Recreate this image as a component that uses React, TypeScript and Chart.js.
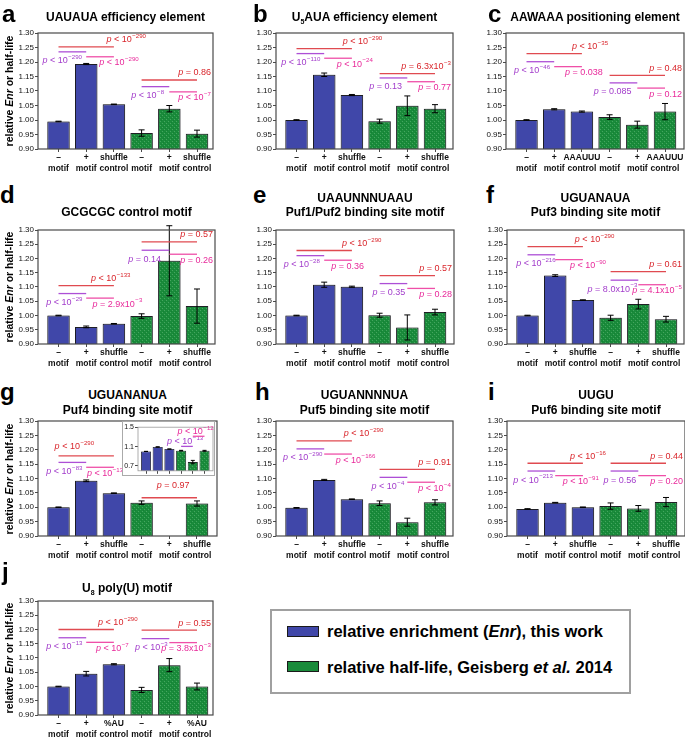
import React, { useEffect, useRef } from "react";
import { Chart, registerables } from "chart.js";
Chart.register(...registerables);

const FONT = '"Liberation Sans", Arial, Helvetica, sans-serif';
Chart.defaults.font.family = FONT;

const BLUE = "#4047a9";
const GREEN = "#1a8b3b";
const EDGE = "#1b1b22";
const AXIS = "#4a4a4a";
const TEXT_C: any = { r: "#d9252b", p: "#a23ccb", m: "#e8299a" };
const LINE_C: any = { r: "#e04a50", p: "#ad4fd6", m: "#ef4fa8" };
const DEF_DY: any = { r: -7, p: 9, m: 6 };

// ---------- data ----------
const ENR_X = [0, 1, 2];
const HL_X = [3, 4, 5];
const TICK_POS = [0, 1, 2, 3, 4, 5];
const Y_TICKS = [0.9, 0.95, 1.0, 1.05, 1.1, 1.15, 1.2, 1.25, 1.3];
const INSET_TICKS = [0.7, 0.9, 1.1, 1.3, 1.5];

const LABELS_SHUFFLE = [["–", "motif"], ["+", "motif"], ["shuffle", "control"], ["–", "motif"], ["+", "motif"], ["shuffle", "control"]];
const LABELS_AAAUUU = [["–", "motif"], ["+", "motif"], ["AAAUUU", "control"], ["–", "motif"], ["+", "motif"], ["AAAUUU", "control"]];
const LABELS_AU = [["–", "motif"], ["+", "motif"], ["%AU", "control"], ["–", "motif"], ["+", "motif"], ["%AU", "control"]];

const A_ENR = [0.995, 1.193, 1.054];
const A_ENR_ERR = [0.001, 0.002, 0.001];
const A_HL = [0.955, 1.039, 0.953];
const A_HL_ERR = [0.011, 0.011, 0.012];
const A_P = ["p < 10^−290", "p < 10^−290", "p < 10^−290", "p = 0.86", "p < 10^−8", "p < 10^−7"];

const B_ENR = [1.0, 1.156, 1.086];
const B_ENR_ERR = [0.001, 0.006, 0.002];
const B_HL = [0.996, 1.049, 1.039];
const B_HL_ERR = [0.007, 0.034, 0.014];
const B_P = ["p < 10^−290", "p < 10^−110", "p < 10^−24", "p = 6.3x10^−3", "p = 0.13", "p = 0.77"];

const C_ENR = [1.0, 1.037, 1.029];
const C_ENR_ERR = [0.001, 0.002, 0.002];
const C_HL = [1.01, 0.984, 1.029];
const C_HL_ERR = [0.008, 0.012, 0.028];
const C_P = ["p < 10^−35", "p < 10^−46", "p = 0.038", "p = 0.48", "p = 0.085", "p = 0.12"];

const D_ENR = [1.0, 0.96, 0.971];
const D_ENR_ERR = [0.001, 0.003, 0.001];
const D_HL = [0.998, 1.192, 1.033];
const D_HL_ERR = [0.008, 0.123, 0.06];
const D_P = ["p < 10^−133", "p < 10^−29", "p = 2.9x10^−3", "p = 0.57", "p = 0.14", "p = 0.26"];

const E_ENR = [1.0, 1.108, 1.101];
const E_ENR_ERR = [0.001, 0.009, 0.002];
const E_HL = [1.001, 0.958, 1.012];
const E_HL_ERR = [0.007, 0.044, 0.01];
const E_P = ["p < 10^−290", "p < 10^−28", "p = 0.36", "p = 0.57", "p = 0.35", "p = 0.28"];

const F_ENR = [1.0, 1.14, 1.054];
const F_ENR_ERR = [0.001, 0.003, 0.001];
const F_HL = [0.992, 1.04, 0.987];
const F_HL_ERR = [0.009, 0.017, 0.01];
const F_P = ["p < 10^−290", "p < 10^−216", "p < 10^−90", "p = 0.61", "p = 8.0x10^−3", "p = 4.1x10^−5"];

const G_ENR = [1.0, 1.092, 1.049];
const G_ENR_ERR = [0.001, 0.003, 0.001];
const G_HL = [1.016, 0.78, 1.013];
const G_HL_ERR = [0.006, 0.035, 0.009];
const G_P = ["p < 10^−290", "p < 10^−83", "p < 10^−13", "p = 0.97"];
const G_INSET_P = ["p < 10^−13", "p < 10^−12"];

const H_ENR = [0.998, 1.095, 1.028];
const H_ENR_ERR = [0.001, 0.002, 0.001];
const H_HL = [1.014, 0.948, 1.017];
const H_HL_ERR = [0.008, 0.014, 0.009];
const H_P = ["p < 10^−290", "p < 10^−290", "p < 10^−166", "p = 0.91", "p < 10^−4", "p < 10^−4"];

const I_ENR = [0.994, 1.016, 1.0];
const I_ENR_ERR = [0.001, 0.001, 0.001];
const I_HL = [1.004, 0.996, 1.018];
const I_HL_ERR = [0.011, 0.01, 0.016];
const I_P = ["p < 10^−16", "p < 10^−213", "p < 10^−91", "p = 0.44", "p = 0.56", "p = 0.20"];

const J_ENR = [1.0, 1.045, 1.078];
const J_ENR_ERR = [0.001, 0.008, 0.002];
const J_HL = [0.988, 1.075, 1.0];
const J_HL_ERR = [0.009, 0.023, 0.012];
const J_P = ["p < 10^−290", "p < 10^−13", "p < 10^−7", "p = 0.55", "p < 10^−3", "p = 3.8x10^−3"];

// ---------- layout ----------
const STD_KINDS: [string, number][] = [["r", 0], ["p", 0], ["m", 0], ["r", 1], ["p", 1], ["m", 1]];
function std(levels: number[], tx: (number | null)[]) {
  return STD_KINDS.map(([k, g], i) => ({ k, g, y: levels[i], tx: tx[i] }));
}

const AXW = 36, PT = 14, PR = 3, XH = 30;
const SP = 27.7, OFF = 20.5;

const PANELS: any[] = [
  { id: "a", l: 38, r: 213, t: 33, b: 149, enr: A_ENR, enrErr: A_ENR_ERR, hl: A_HL, hlErr: A_HL_ERR, labels: LABELS_SHUFFLE, pvals: A_P,
    br: std([1.252, 1.235, 1.218, 1.138, 1.115, 1.097], [1.73, -0.58, 1.47, null, 2.63, null]) },
  { id: "b", l: 276, r: 453, t: 33, b: 149, enr: B_ENR, enrErr: B_ENR_ERR, hl: B_HL, hlErr: B_HL_ERR, labels: LABELS_SHUFFLE, pvals: B_P,
    br: std([1.246, 1.229, 1.213, 1.16, 1.145, 1.132], [1.67, -0.55, 1.45, null, 2.63, null]) },
  { id: "c", l: 506, r: 684, t: 33, b: 149, enr: C_ENR, enrErr: C_ENR_ERR, hl: C_HL, hlErr: C_HL_ERR, labels: LABELS_AAAUUU, pvals: C_P,
    br: std([1.229, 1.201, 1.184, 1.154, 1.128, 1.11], [1.64, -0.45, 1.39, null, 2.43, null]) },
  { id: "d", l: 38, r: 215, t: 230, b: 344, enr: D_ENR, enrErr: D_ENR_ERR, hl: D_HL, hlErr: D_HL_ERR, labels: LABELS_SHUFFLE, pvals: D_P,
    br: std([1.105, 1.077, 1.061, 1.258, 1.229, 1.215], [1.17, -0.44, 1.23, null, 2.52, null]) },
  { id: "e", l: 276, r: 454, t: 230, b: 344, enr: E_ENR, enrErr: E_ENR_ERR, hl: E_HL, hlErr: E_HL_ERR, labels: LABELS_SHUFFLE, pvals: E_P,
    br: std([1.228, 1.21, 1.194, 1.14, 1.112, 1.095], [1.64, -0.46, 1.25, null, 2.74, null]) },
  { id: "f", l: 507, r: 684, t: 230, b: 344, enr: F_ENR, enrErr: F_ENR_ERR, hl: F_HL, hlErr: F_HL_ERR, labels: LABELS_SHUFFLE, pvals: F_P,
    br: std([1.242, 1.213, 1.196, 1.154, 1.124, 1.108], [1.71, -0.41, 1.53, null, 2.17, null]) },
  { id: "g", l: 38, r: 217, t: 421, b: 536, enr: G_ENR, enrErr: G_ENR_ERR, hl: G_HL, hlErr: G_HL_ERR, labels: LABELS_SHUFFLE, pvals: G_P,
    br: [{ k: "r", g: 0, y: 1.179, tx: -0.14, dy: -9 }, { k: "p", g: 0, y: 1.156, tx: -0.44 }, { k: "m", g: 0, y: 1.139, tx: 1.03 }, { k: "r", g: 1, y: 1.033, tx: 3.55, dy: -12 }] },
  { id: "h", l: 276, r: 453, t: 421, b: 536, enr: H_ENR, enrErr: H_ENR_ERR, hl: H_HL, hlErr: H_HL_ERR, labels: LABELS_SHUFFLE, pvals: H_P,
    br: std([1.231, 1.203, 1.185, 1.132, 1.104, 1.087], [1.71, -0.49, 1.42, null, 2.71, null]) },
  { id: "i", l: 507, r: 685, t: 421, b: 536, enr: I_ENR, enrErr: I_ENR_ERR, hl: I_HL, hlErr: I_HL_ERR, labels: LABELS_SHUFFLE, pvals: I_P,
    br: std([1.153, 1.126, 1.11, 1.153, 1.126, 1.11], [1.53, -0.51, 1.27, null, 2.74, null]) },
  { id: "j", l: 38, r: 213, t: 601, b: 715, enr: J_ENR, enrErr: J_ENR_ERR, hl: J_HL, hlErr: J_HL_ERR, labels: LABELS_AU, pvals: J_P,
    br: std([1.2, 1.171, 1.155, 1.198, 1.168, 1.154], [1.43, -0.44, 1.35, null, 2.76, null]) },
];

const INSET = { left: 124, top: 422, w: 91, h: 54, axw: 14, pt: 3, pr: 2, xh: 3, sp: 11.7, off: 8,
  br: [{ k: "p", g: 1, y: 1.104, tx: 1.8, dy: -5, c: [3, 4] }, { k: "m", g: 1, y: 1.313, tx: 2.7, dy: -5, c: [4, 5] }] };

// ---------- drawing helpers ----------
function makeGreen(ctx: CanvasRenderingContext2D) {
  const c = document.createElement("canvas");
  c.width = 4; c.height = 4;
  const g = c.getContext("2d")!;
  g.fillStyle = GREEN; g.fillRect(0, 0, 4, 4);
  g.fillStyle = "rgba(120,200,140,0.45)"; g.fillRect(0, 0, 1, 1); g.fillRect(2, 2, 1, 1);
  g.fillStyle = "rgba(0,90,30,0.2)"; g.fillRect(1, 3, 1, 1); g.fillRect(3, 1, 1, 1);
  return ctx.createPattern(c, "repeat") || GREEN;
}

function drawPText(ctx: any, x: number, yc: number, str: string, color: string, alignRight: boolean, fs: number) {
  const [main, sup] = str.split("^");
  const body = main.slice(1);
  ctx.save();
  ctx.fillStyle = color;
  ctx.textBaseline = "middle";
  ctx.textAlign = "left";
  const fI = `italic ${fs}px ${FONT}`, fN = `${fs}px ${FONT}`, fS = `${(fs * 0.68).toFixed(1)}px ${FONT}`;
  ctx.font = fI; const w1 = ctx.measureText("p").width;
  ctx.font = fN; const w2 = ctx.measureText(body).width;
  let w3 = 0;
  if (sup) { ctx.font = fS; w3 = ctx.measureText(sup).width + 0.5; }
  const x0 = alignRight ? x - (w1 + w2 + w3) : x;
  ctx.font = fI; ctx.fillText("p", x0, yc);
  ctx.font = fN; ctx.fillText(body, x0 + w1, yc);
  if (sup) { ctx.font = fS; ctx.fillText(sup, x0 + w1 + w2 + 0.5, yc - fs * 0.38); }
  ctx.restore();
}

const shadowPlugin = {
  id: "shadow",
  beforeDatasetsDraw(chart: any) {
    const ctx = chart.ctx;
    ctx.save();
    ctx.shadowColor = "rgba(60,60,60,0.45)";
    ctx.shadowBlur = 2.5;
    ctx.shadowOffsetX = 0.6;
  },
  afterDatasetsDraw(chart: any) { chart.ctx.restore(); },
};

const errorPlugin = {
  id: "errs",
  afterDatasetsDraw(chart: any) {
    const ys = chart.scales.y, ctx = chart.ctx;
    chart.data.datasets.forEach((ds: any, di: number) => {
      const meta = chart.getDatasetMeta(di);
      meta.data.forEach((el: any, j: number) => {
        const v = ds.data[j].y, e = ds.errors[j];
        if (v < ys.min || !e) return;
        const yt = ys.getPixelForValue(v + e), yb = ys.getPixelForValue(v - e);
        const x = el.x, cw = ds.capW;
        ctx.save();
        ctx.strokeStyle = "#000"; ctx.lineWidth = 1;
        ctx.beginPath();
        ctx.moveTo(x, yt); ctx.lineTo(x, yb);
        ctx.moveTo(x - cw, yt); ctx.lineTo(x + cw, yt);
        ctx.moveTo(x - cw, yb); ctx.lineTo(x + cw, yb);
        ctx.stroke();
        ctx.restore();
      });
    });
  },
};

function framePlugin(color: string, lw: number) {
  return {
    id: "frame",
    afterDatasetsDraw(chart: any) {
      const { ctx, chartArea: a } = chart;
      ctx.save();
      ctx.strokeStyle = color; ctx.lineWidth = lw;
      ctx.strokeRect(a.left, a.top, a.right - a.left, a.bottom - a.top);
      ctx.restore();
    },
  };
}

function bracketPlugin(brs: any[], texts: string[], fs: number) {
  return {
    id: "brackets",
    afterDraw(chart: any) {
      const { ctx, chartArea } = chart;
      const xs = chart.scales.x, ys = chart.scales.y;
      brs.forEach((b: any, i: number) => {
        const base = b.g * 3;
        const [i0, i1] = b.c ? b.c : b.k === "r" ? [base, base + 2] : b.k === "p" ? [base, base + 1] : [base + 1, base + 2];
        const y = ys.getPixelForValue(b.y);
        ctx.save();
        ctx.strokeStyle = LINE_C[b.k]; ctx.lineWidth = 1.3;
        ctx.beginPath();
        ctx.moveTo(xs.getPixelForValue(i0), y);
        ctx.lineTo(xs.getPixelForValue(i1), y);
        ctx.stroke();
        ctx.restore();
        const dy = b.dy ?? DEF_DY[b.k];
        if (b.tx == null) drawPText(ctx, chartArea.right - 2, y + dy, texts[i], TEXT_C[b.k], true, fs);
        else drawPText(ctx, xs.getPixelForValue(b.tx), y + dy, texts[i], TEXT_C[b.k], false, fs);
      });
    },
  };
}

function buildConfig(o: any) {
  return {
    type: "bar",
    data: {
      datasets: [
        {
          data: [...ENR_X.map((x, i) => ({ x, y: o.enr[i] })), ...HL_X.map((x, i) => ({ x, y: o.hl[i] }))],
          errors: [...o.enrErr, ...o.hlErr],
          capW: o.capW,
          backgroundColor: [BLUE, BLUE, BLUE, o.green, o.green, o.green],
          borderColor: EDGE,
          borderWidth: o.bw,
          barPercentage: o.barPct,
          categoryPercentage: 0.9,
          clip: 0,
        },
      ],
    },
    options: {
      animation: false,
      responsive: false,
      events: [],
      layout: { padding: { top: o.pt, right: o.pr, left: 0, bottom: 0 } },
      plugins: { legend: { display: false }, tooltip: { enabled: false }, title: { display: false } },
      scales: {
        x: {
          type: "linear", min: o.xmin, max: o.xmax, offset: false,
          grid: { display: true, drawOnChartArea: false, drawTicks: true, tickLength: 3, color: AXIS, offset: false },
          border: { display: false },
          ticks: {
            display: o.showX, autoSkip: false, maxRotation: 0, minRotation: 0, padding: 0, color: "#111",
            font: { size: 8.5, weight: "bold", lineHeight: 1.3, family: FONT },
            callback: (v: any) => (o.labels ? o.labels[Math.round(v)] ?? "" : ""),
          },
          afterBuildTicks: (s: any) => { s.ticks = TICK_POS.map((v) => ({ value: v })); },
          afterFit: (s: any) => { s.height = o.xh; },
        },
        y: {
          type: "linear", min: o.ymin, max: o.ymax,
          grid: { display: true, drawOnChartArea: false, drawTicks: true, tickLength: 3, color: AXIS },
          border: { display: false },
          ticks: { padding: 1, color: "#111", font: { size: o.yfs, family: FONT }, callback: (v: any) => Number(v).toFixed(o.ydec) },
          afterBuildTicks: (s: any) => { s.ticks = o.yticks.map((v: number) => ({ value: v })); },
          afterFit: (s: any) => { s.width = o.axw; },
        },
      },
    },
    plugins: [shadowPlugin, errorPlugin, framePlugin(o.frame, o.frameW), bracketPlugin(o.br, o.pvals, 9)],
  } as any;
}

function MainChart({ p }: { p: any }) {
  const ref = useRef<HTMLCanvasElement>(null);
  const w = AXW + (p.r - p.l) + PR, h = PT + (p.b - p.t) + XH;
  useEffect(() => {
    const c = ref.current;
    if (!c) return;
    const ctx = c.getContext("2d")!;
    const W = p.r - p.l;
    const xmin = -OFF / SP;
    const chart = new Chart(c, buildConfig({
      enr: p.enr, enrErr: p.enrErr, hl: p.hl, hlErr: p.hlErr, labels: p.labels, pvals: p.pvals, br: p.br,
      green: makeGreen(ctx), capW: 3, bw: 1, barPct: 0.9,
      xmin, xmax: xmin + W / SP, ymin: 0.9, ymax: 1.3, yticks: Y_TICKS, ydec: 2, yfs: 8,
      pt: PT, pr: PR, xh: XH, axw: AXW, showX: true, frame: AXIS, frameW: 1.2,
    }));
    return () => chart.destroy();
  }, [p]);
  return <canvas ref={ref} width={w} height={h} style={{ position: "absolute", left: p.l - AXW, top: p.t - PT }} />;
}

function InsetChart() {
  const ref = useRef<HTMLCanvasElement>(null);
  const o = INSET;
  useEffect(() => {
    const c = ref.current;
    if (!c) return;
    const ctx = c.getContext("2d")!;
    const W = o.w - o.axw - o.pr;
    const xmin = -o.off / o.sp;
    const chart = new Chart(c, buildConfig({
      enr: G_ENR, enrErr: G_ENR_ERR, hl: G_HL, hlErr: G_HL_ERR, labels: null, pvals: G_INSET_P, br: o.br,
      green: makeGreen(ctx), capW: 2, bw: 0.8, barPct: 0.95,
      xmin, xmax: xmin + W / o.sp, ymin: 0.6, ymax: 1.5, yticks: INSET_TICKS, ydec: 1, yfs: 7,
      pt: o.pt, pr: o.pr, xh: o.xh, axw: o.axw, showX: false, frame: "#9a9a9a", frameW: 0.8,
    }));
    return () => chart.destroy();
  }, []);
  return (
    <>
      <div style={{ position: "absolute", left: o.left - 2, top: o.top - 1, width: o.w + 2, height: o.h + 1, background: "#fff", border: "1px solid #aaa", boxSizing: "border-box" }} />
      <canvas ref={ref} width={o.w} height={o.h} style={{ position: "absolute", left: o.left, top: o.top }} />
    </>
  );
}

const LETTERS: any[] = [
  ["a", 2, 22], ["b", 253, 22], ["c", 488, 22],
  ["d", 0, 203], ["e", 253, 203], ["f", 486, 203],
  ["g", 0, 400], ["h", 255, 400], ["i", 488, 400],
  ["j", 2, 580],
];

const sub = (s: string) => <span style={{ fontSize: 7, position: "relative", top: 3 }}>{s}</span>;

const TITLES: any[] = [
  [125.5, 17, <>UAUAUA efficiency element</>],
  [364.5, 17, <>U{sub("5")}AUA efficiency element</>],
  [595, 17, <>AAWAAA positioning element</>],
  [126.5, 212, <>GCGCGC control motif</>],
  [365, 197.5, <>UAAUNNNUAAU</>], [365, 211.5, <>Puf1/Puf2 binding site motif</>],
  [595.5, 197.5, <>UGUANAUA</>], [595.5, 211.5, <>Puf3 binding site motif</>],
  [127.5, 395, <>UGUANANUA</>], [127.5, 410, <>Puf4 binding site motif</>],
  [364.5, 395, <>UGUANNNNUA</>], [364.5, 410, <>Puf5 binding site motif</>],
  [596, 395, <>UUGU</>], [596, 410, <>Puf6 binding site motif</>],
  [127, 588, <>U{sub("8")} poly(U) motif</>],
];

const YLABELS = [91, 287, 478.5, 658];

export default function App() {
  const LF = 24, TF = 12;
  return (
    <div style={{ position: "absolute", left: 0, top: 0, width: 685, height: 737, overflow: "hidden", background: "#fff", fontFamily: FONT, color: "#111" }}>
      {PANELS.map((p) => (
        <React.Fragment key={p.id}>
          <MainChart p={p} />
          {p.id === "g" ? <InsetChart /> : null}
        </React.Fragment>
      ))}
      {LETTERS.map(([t, x, bl]) => (
        <div key={t} style={{ position: "absolute", left: x, top: bl - 0.8465 * LF, fontSize: LF, lineHeight: `${LF}px`, fontWeight: "bold", color: "#000" }}>{t}</div>
      ))}
      {TITLES.map(([cx, cy, node], i) => (
        <div key={i} style={{ position: "absolute", left: cx - 150, width: 300, top: cy - 0.49 * TF, fontSize: TF, lineHeight: `${TF}px`, fontWeight: "bold", textAlign: "center", whiteSpace: "nowrap", color: "#000" }}>{node}</div>
      ))}
      {YLABELS.map((cy, i) => (
        <div key={i} style={{ position: "absolute", left: 9, top: cy, transform: "translate(-50%,-50%) rotate(-90deg)", fontSize: 10.5, fontWeight: "bold", whiteSpace: "nowrap", lineHeight: "12px", color: "#000" }}>
          relative <i>Enr</i> or half-life
        </div>
      ))}
      <div style={{ position: "absolute", left: 270, top: 609, width: 361, height: 85, border: "2px solid #a0a0a0", boxSizing: "border-box", background: "#fff" }} />
      <div style={{ position: "absolute", left: 287, top: 626, width: 32, height: 11, background: BLUE, border: "1.5px solid #1a1a1a", boxSizing: "border-box" }} />
      <div style={{ position: "absolute", left: 287, top: 661, width: 32, height: 11, background: GREEN, border: "1.5px solid #1a1a1a", boxSizing: "border-box" }} />
      <div style={{ position: "absolute", left: 327, top: 631.5 - 0.49 * 16.5, fontSize: 16.5, lineHeight: "16.5px", fontWeight: "bold", whiteSpace: "nowrap", color: "#000" }}>
        relative enrichment (<i>Enr</i>), this work
      </div>
      <div style={{ position: "absolute", left: 327, top: 667 - 0.49 * 16.5, fontSize: 16.5, lineHeight: "16.5px", fontWeight: "bold", whiteSpace: "nowrap", color: "#000" }}>
        relative half-life, Geisberg <i>et al.</i> 2014
      </div>
    </div>
  );
}
